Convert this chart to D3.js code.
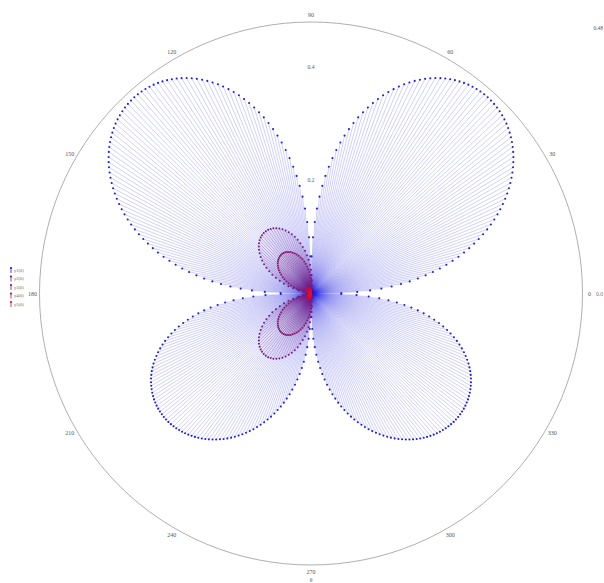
<!DOCTYPE html>
<html>
<head>
<meta charset="utf-8">
<script src="https://cdn.jsdelivr.net/npm/d3@7"></script>
<style>body{margin:0;background:#fff;}</style>
</head>
<body>
<script>
// angle ticks (degrees) and radial ticks
const angleTicks = [0, 30, 60, 90, 120, 150, 180, 210, 240, 270, 300, 330];
const radialTicks = [0.2, 0.4];
const seriesNames = ["y1(θ)", "y2(θ)", "y3(θ)", "y4(θ)", "y5(θ)"];
const seriesColors = ["#1f1fe0", "#6e1f8c", "#85196f", "#b8124f", "#e3102a"];

// series 1 : big four-petal curve, one sample per degree
const thetaBlue = [
  0,1,2,3,4,5,6,7,8,9,10,11,12,13,14,15,16,17,18,19,20,21,22,23,24,25,26,27,28,29,
  30,31,32,33,34,35,36,37,38,39,40,41,42,43,44,45,46,47,48,49,50,51,52,53,54,55,56,57,58,59,
  60,61,62,63,64,65,66,67,68,69,70,71,72,73,74,75,76,77,78,79,80,81,82,83,84,85,86,87,88,89,
  90,91,92,93,94,95,96,97,98,99,100,101,102,103,104,105,106,107,108,109,110,111,112,113,114,115,116,117,118,119,
  120,121,122,123,124,125,126,127,128,129,130,131,132,133,134,135,136,137,138,139,140,141,142,143,144,145,146,147,148,149,
  150,151,152,153,154,155,156,157,158,159,160,161,162,163,164,165,166,167,168,169,170,171,172,173,174,175,176,177,178,179,
  180,181,182,183,184,185,186,187,188,189,190,191,192,193,194,195,196,197,198,199,200,201,202,203,204,205,206,207,208,209,
  210,211,212,213,214,215,216,217,218,219,220,221,222,223,224,225,226,227,228,229,230,231,232,233,234,235,236,237,238,239,
  240,241,242,243,244,245,246,247,248,249,250,251,252,253,254,255,256,257,258,259,260,261,262,263,264,265,266,267,268,269,
  270,271,272,273,274,275,276,277,278,279,280,281,282,283,284,285,286,287,288,289,290,291,292,293,294,295,296,297,298,299,
  300,301,302,303,304,305,306,307,308,309,310,311,312,313,314,315,316,317,318,319,320,321,322,323,324,325,326,327,328,329,
  330,331,332,333,334,335,336,337,338,339,340,341,342,343,344,345,346,347,348,349,350,351,352,353,354,355,356,357,358,359];
const rBlue = [0,
  .0538,.0818,.1046,.1247,.1431,.1600,.1758,.1908,.2052,.2189,.2321,.2447,.2569,.2687,.2801,.2910,.3016,.3118,.3218,.3314,
  .3406,.3495,.3582,.3664,.3743,.3820,.3893,.3963,.4030,.4094,.4154,.4212,.4266,.4316,.4364,.4408,.4449,.4486,.4520,.4550,
  .4578,.4601,.4621,.4637,.4651,.4660,.4666,.4668,.4667,.4661,.4652,.4639,.4623,.4602,.4578,.4550,.4518,.4482,.4442,.4398,
  .4350,.4298,.4242,.4182,.4117,.4049,.3976,.3897,.3816,.3729,.3638,.3541,.3440,.3334,.3224,.3107,.2983,.2854,.2719,.2575,
  .2424,.2264,.2095,.1914,.1719,.1505,.1267,.0995,.0657,
  0,
  .0657,.0995,.1267,.1505,.1719,.1914,.2095,.2264,.2424,
  .2575,.2719,.2854,.2983,.3107,.3224,.3334,.3440,.3541,.3638,.3729,.3816,.3897,.3976,.4049,.4117,.4182,.4242,.4298,.4350,
  .4398,.4442,.4482,.4518,.4550,.4578,.4602,.4623,.4639,.4652,.4661,.4667,.4668,.4666,.4660,.4651,.4637,.4621,.4601,.4578,
  .4550,.4520,.4486,.4449,.4408,.4364,.4316,.4266,.4212,.4154,.4094,.4030,.3963,.3893,.3820,.3743,.3664,.3582,.3495,.3406,
  .3314,.3218,.3118,.3016,.2910,.2801,.2687,.2569,.2447,.2321,.2189,.2052,.1908,.1758,.1600,.1431,.1247,.1046,.0818,.0538,
  0,
  .0534,.0806,.1022,.1209,.1375,.1526,.1664,.1792,.1912,.2023,.2129,.2227,.2321,.2409,.2491,.2568,.2642,.2712,.2776,.2838,
  .2896,.2949,.3000,.3048,.3091,.3132,.3169,.3203,.3234,.3262,.3288,.3310,.3330,.3348,.3362,.3374,.3383,.3390,.3394,.3396,
  .3396,.3393,.3387,.3379,.3369,.3356,.3342,.3326,.3307,.3285,.3262,.3237,.3209,.3180,.3148,.3114,.3078,.3040,.3000,.2958,
  .2914,.2868,.2820,.2770,.2717,.2663,.2606,.2547,.2486,.2423,.2357,.2289,.2218,.2144,.2068,.1989,.1907,.1820,.1731,.1637,
  .1540,.1436,.1327,.1212,.1087,.0951,.0801,.0629,.0415,
  0,
  .0415,.0629,.0801,.0951,.1087,.1212,.1327,.1436,.1540,
  .1637,.1731,.1820,.1907,.1989,.2068,.2144,.2218,.2289,.2357,.2423,.2486,.2547,.2606,.2663,.2717,.2770,.2820,.2868,.2914,
  .2958,.3000,.3040,.3078,.3114,.3148,.3180,.3209,.3237,.3262,.3285,.3307,.3326,.3342,.3356,.3369,.3379,.3387,.3393,.3396,
  .3396,.3394,.3390,.3383,.3374,.3362,.3348,.3330,.3310,.3288,.3262,.3234,.3203,.3169,.3132,.3091,.3048,.3000,.2949,.2896,
  .2838,.2776,.2712,.2642,.2568,.2491,.2409,.2321,.2227,.2129,.2023,.1912,.1792,.1664,.1526,.1375,.1209,.1022,.0806,.0534];

// series 2-5 : the lobes on the left side (upper and lower lobe)
const thetaLobe = [
  82,84,86,88,90,92,94,96,98,100,102,104,106,108,110,112,114,116,118,120,122,124,126,
  128,130,132,134,136,138,140,142,144,146,148,150,152,154,156,158,160,162,164,166,168,170,
  190,192,194,196,198,200,202,204,206,208,210,212,214,216,218,220,222,224,226,228,230,232,234,
  236,238,240,242,244,246,248,250,252,254,256,258,260,262,264,266,268,270,272,274,276,278];
const r2 = [
  .0047,.0142,.0236,.0329,.0420,.0509,.0596,.0680,.0761,.0837,.0910,.0978,.1042,.1100,.1153,.1201,.1242,.1278,.1307,.1330,.1347,.1357,.1360,
  .1357,.1347,.1330,.1307,.1278,.1242,.1201,.1153,.1100,.1042,.0978,.0910,.0837,.0761,.0680,.0596,.0509,.0420,.0329,.0236,.0142,.0047,
  .0047,.0142,.0236,.0329,.0420,.0509,.0596,.0680,.0761,.0837,.0910,.0978,.1042,.1100,.1153,.1201,.1242,.1278,.1307,.1330,.1347,.1357,.1360,
  .1357,.1347,.1330,.1307,.1278,.1242,.1201,.1153,.1100,.1042,.0978,.0910,.0837,.0761,.0680,.0596,.0509,.0420,.0329,.0236,.0142,.0047];
const r3 = [
  .0030,.0090,.0150,.0209,.0268,.0324,.0380,.0433,.0484,.0533,.0579,.0623,.0663,.0701,.0734,.0765,.0791,.0814,.0832,.0847,.0858,.0864,.0866,
  .0864,.0858,.0847,.0832,.0814,.0791,.0765,.0734,.0701,.0663,.0623,.0579,.0533,.0484,.0433,.0380,.0324,.0268,.0209,.0150,.0090,.0030,
  .0030,.0090,.0150,.0209,.0268,.0324,.0380,.0433,.0484,.0533,.0579,.0623,.0663,.0701,.0734,.0765,.0791,.0814,.0832,.0847,.0858,.0864,.0866,
  .0864,.0858,.0847,.0832,.0814,.0791,.0765,.0734,.0701,.0663,.0623,.0579,.0533,.0484,.0433,.0380,.0324,.0268,.0209,.0150,.0090,.0030];
const r4 = [
  .0004,.0013,.0021,.0029,.0037,.0045,.0053,.0060,.0067,.0074,.0080,.0086,.0092,.0097,.0102,.0106,.0110,.0113,.0115,.0117,.0119,.0120,.0120,
  .0120,.0119,.0117,.0115,.0113,.0110,.0106,.0102,.0097,.0092,.0086,.0080,.0074,.0067,.0060,.0053,.0045,.0037,.0029,.0021,.0013,.0004,
  .0004,.0013,.0021,.0029,.0037,.0045,.0053,.0060,.0067,.0074,.0080,.0086,.0092,.0097,.0102,.0106,.0110,.0113,.0115,.0117,.0119,.0120,.0120,
  .0120,.0119,.0117,.0115,.0113,.0110,.0106,.0102,.0097,.0092,.0086,.0080,.0074,.0067,.0060,.0053,.0045,.0037,.0029,.0021,.0013,.0004];
const r5 = [
  .0002,.0006,.0010,.0015,.0019,.0022,.0026,.0030,.0034,.0037,.0040,.0043,.0046,.0049,.0051,.0053,.0055,.0056,.0058,.0059,.0059,.0060,.0060,
  .0060,.0059,.0059,.0058,.0056,.0055,.0053,.0051,.0049,.0046,.0043,.0040,.0037,.0034,.0030,.0026,.0022,.0019,.0015,.0010,.0006,.0002,
  .0002,.0006,.0010,.0015,.0019,.0022,.0026,.0030,.0034,.0037,.0040,.0043,.0046,.0049,.0051,.0053,.0055,.0056,.0058,.0059,.0059,.0060,.0060,
  .0060,.0059,.0059,.0058,.0056,.0055,.0053,.0051,.0049,.0046,.0043,.0040,.0037,.0034,.0030,.0026,.0022,.0019,.0015,.0010,.0006,.0002];

const width = 604, height = 583;
const cx = 311, cy = 293.5, R = 271.5;

const rScale = d3.scaleLinear().domain([0, 0.48]).range([0, R]);
const aScale = d3.scaleLinear().domain([0, 360]).range([0, 2 * Math.PI]);
const px = (t, v) => cx + rScale(v) * Math.cos(aScale(t));
const py = (t, v) => cy - rScale(v) * Math.sin(aScale(t));

const series = [
  { theta: thetaBlue, r: rBlue, lineOp: 0.36, lineW: 0.6, dot: 1.05 },
  { theta: thetaLobe, r: r2, lineOp: 0.45, lineW: 0.6, dot: 1.0 },
  { theta: thetaLobe, r: r3, lineOp: 0.45, lineW: 0.6, dot: 1.0 },
  { theta: thetaLobe, r: r4, lineOp: 0.6, lineW: 0.6, dot: 0.9 },
  { theta: thetaLobe, r: r5, lineOp: 0.6, lineW: 0.6, dot: 0.9 }
].map((s, i) => ({ ...s, name: seriesNames[i], color: seriesColors[i],
  pts: s.theta.map((t, j) => ({ t: t, v: s.r[j] })) }));

const svg = d3.select("body").append("svg")
  .attr("width", width).attr("height", height)
  .style("font-family", "'Liberation Serif', 'DejaVu Serif', serif");

// outer circle
svg.append("circle")
  .attr("cx", cx).attr("cy", cy).attr("r", R)
  .attr("fill", "none").attr("stroke", "#9a9a9a").attr("stroke-width", 0.8);

// stems from the pole, then the markers
series.forEach(s => {
  const g = svg.append("g");
  g.append("g")
    .attr("stroke", s.color).attr("stroke-opacity", s.lineOp).attr("stroke-width", s.lineW)
    .selectAll("line").data(s.pts).join("line")
    .attr("x1", cx).attr("y1", cy)
    .attr("x2", d => px(d.t, d.v)).attr("y2", d => py(d.t, d.v));
  g.append("g")
    .attr("fill", s.color)
    .selectAll("circle").data(s.pts).join("circle")
    .attr("cx", d => px(d.t, d.v)).attr("cy", d => py(d.t, d.v))
    .attr("r", s.dot);
});

// angle labels
svg.append("g")
  .attr("font-size", 6).attr("fill", "#555").attr("text-anchor", "middle")
  .selectAll("text").data(angleTicks).join("text")
  .attr("x", d => cx + (R + 7) * Math.cos(aScale(d)))
  .attr("y", d => cy - (R + 7) * Math.sin(aScale(d)) + 2)
  .text(d => d);

// radial labels along 90 degrees
svg.append("g")
  .attr("font-size", 5.5).attr("fill", "#555").attr("text-anchor", "middle")
  .selectAll("text").data(radialTicks).join("text")
  .attr("x", cx).attr("y", d => cy - rScale(d) + 2)
  .text(d => d);

svg.append("text").attr("x", 603).attr("y", 30).attr("text-anchor", "end")
  .attr("font-size", 5.5).attr("fill", "#555").text("0.48");
svg.append("text").attr("x", 596).attr("y", 296)
  .attr("font-size", 5.5).attr("fill", "#777").text("0.0");
svg.append("text").attr("x", cx).attr("y", 582).attr("text-anchor", "middle")
  .attr("font-size", 5.5).attr("fill", "#555").text("θ");

// legend
const legend = svg.append("g").attr("transform", "translate(11,270)")
  .selectAll("g").data(series).join("g")
  .attr("transform", (d, i) => `translate(0,${i * 8.5})`);
legend.append("line").attr("x1", 0).attr("x2", 0).attr("y1", -2).attr("y2", 3)
  .attr("stroke", d => d.color).attr("stroke-width", 0.8);
legend.append("circle").attr("cx", 0).attr("cy", -2).attr("r", 1.1).attr("fill", d => d.color);
legend.append("text").attr("x", 3).attr("y", 1.5).attr("font-size", 4.5).attr("fill", "#666")
  .text(d => d.name);
</script>
</body>
</html>
